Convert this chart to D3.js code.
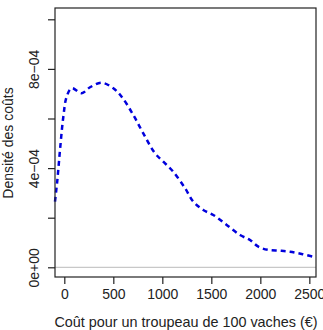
<!DOCTYPE html>
<html>
<head>
<meta charset="utf-8">
<script src="https://cdn.jsdelivr.net/npm/d3@7"></script>
<style>
  body { margin: 0; background: #fff; }
  text { font-family: "Liberation Sans", Arial, sans-serif; fill: #222; }
</style>
</head>
<body>
<svg id="chart" width="323" height="330"></svg>
<script>
// density curve
const costs = [-95, -71, -44, -10, 24, 75, 177, 262, 381, 500, 585, 704, 806, 925, 1010, 1112, 1232, 1316, 1418, 1520, 1657, 1793, 1895, 1980, 2082, 2201, 2303, 2422, 2541, 2568];
const density = [2.65e-4, 3.52e-4, 4.73e-4, 6.07e-4, 6.88e-4, 7.22e-4, 7.02e-4, 7.26e-4, 7.44e-4, 7.22e-4, 6.88e-4, 6.14e-4, 5.40e-4, 4.60e-4, 4.26e-4, 3.85e-4, 3.19e-4, 2.65e-4, 2.31e-4, 2.11e-4, 1.71e-4, 1.30e-4, 1.10e-4, 0.83e-4, 0.70e-4, 0.67e-4, 0.63e-4, 0.54e-4, 0.43e-4, 0.42e-4];

const xTicks = [0, 500, 1000, 1500, 2000, 2500];
const yTicks = [0, 2e-4, 4e-4, 6e-4, 8e-4, 1e-3];
const yLabels = ["0e+00", "", "4e\u221204", "", "8e\u221204", ""];

const mLeft = 55, mRight = 316, mTop = 8, mBottom = 277;

const x = d3.scaleLinear().domain([-95, 2568]).range([mLeft, mRight]);
const y = d3.scaleLinear().domain([0, 2e-4]).range([267.3, 217.7]);

const svg = d3.select("#chart");

// grey zero line
svg.append("line")
    .attr("x1", mLeft).attr("x2", mRight)
    .attr("y1", y(0)).attr("y2", y(0))
    .attr("stroke", "#bbb")
    .attr("stroke-width", 1);

// the density line
const pts = costs.map((c, i) => [c, density[i]]);
svg.append("path")
    .datum(pts)
    .attr("fill", "none")
    .attr("stroke", "#0000dd")
    .attr("stroke-width", 2.5)
    .attr("stroke-dasharray", "5,4")
    .attr("d", d3.line().x(d => x(d[0])).y(d => y(d[1])).curve(d3.curveCatmullRom));

// box
svg.append("rect")
    .attr("x", mLeft).attr("y", mTop)
    .attr("width", mRight - mLeft).attr("height", mBottom - mTop)
    .attr("fill", "none")
    .attr("stroke", "#222")
    .attr("stroke-width", 1.2);

// x axis
const xAxis = svg.append("g")
    .attr("transform", `translate(0, ${mBottom})`)
    .call(d3.axisBottom(x).tickValues(xTicks).tickSize(7).tickPadding(5).tickFormat(d3.format("d")));
xAxis.select(".domain").remove();
xAxis.selectAll("line").attr("stroke", "#222").attr("stroke-width", 1.2);
xAxis.selectAll("text").style("font-size", "14px").attr("fill", "#222");

// y axis
const yAxis = svg.append("g")
    .attr("transform", `translate(${mLeft}, 0)`)
    .call(d3.axisLeft(y).tickValues(yTicks).tickSize(7).tickFormat((d, i) => yLabels[i]));
yAxis.select(".domain").remove();
yAxis.selectAll("line").attr("stroke", "#222").attr("stroke-width", 1.2);
yAxis.selectAll("text")
    .style("font-size", "14px")
    .attr("fill", "#222")
    .attr("x", 0).attr("dy", 0)
    .attr("text-anchor", "middle")
    .attr("transform", "translate(-16, 0) rotate(-90)");

// axis titles
svg.append("text")
    .attr("x", 186).attr("y", 327)
    .attr("text-anchor", "middle")
    .style("font-size", "14.4px")
    .text("Coût pour un troupeau de 100 vaches (€)");

svg.append("text")
    .attr("transform", "translate(13, 143) rotate(-90)")
    .attr("text-anchor", "middle")
    .style("font-size", "14px")
    .text("Densité des coûts");
</script>
</body>
</html>
